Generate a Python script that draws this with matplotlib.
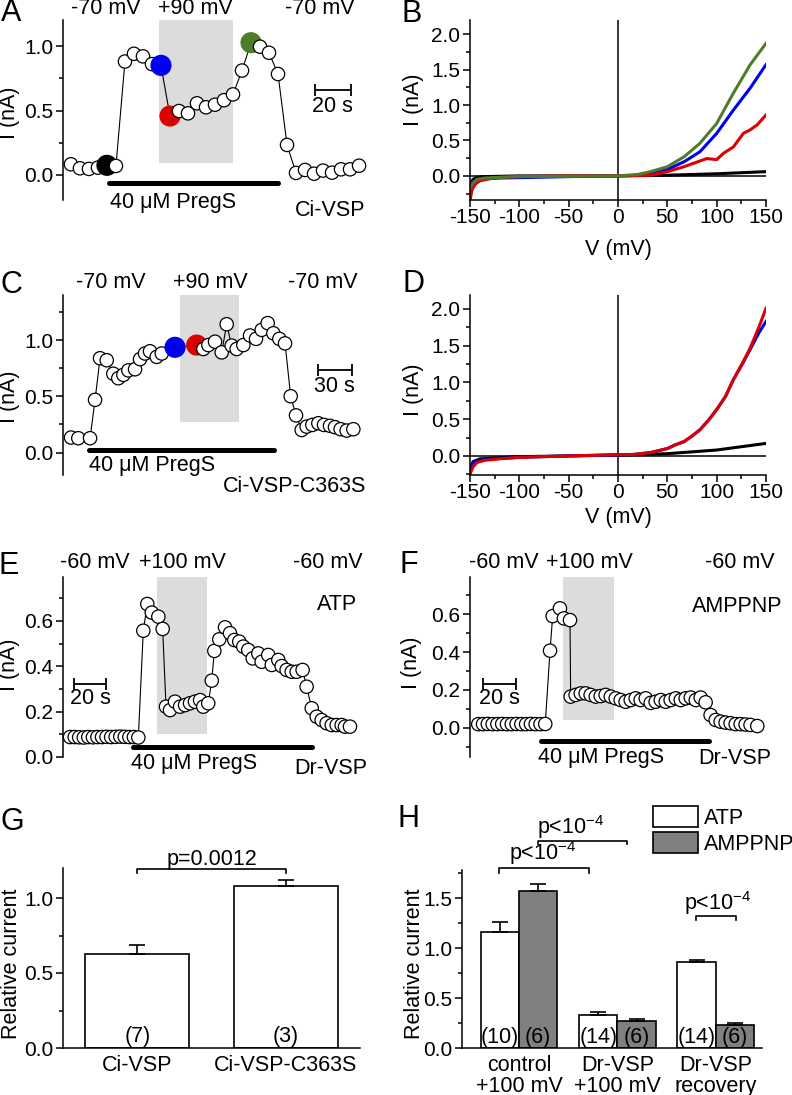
import matplotlib
matplotlib.use('Agg')
import matplotlib.pyplot as plt
from matplotlib.ticker import MultipleLocator, FormatStrFormatter
from matplotlib.patches import Rectangle, Patch

plt.rcParams['font.family'] = 'Liberation Sans'
plt.rcParams['axes.unicode_minus'] = False
plt.rcParams['mathtext.fontset'] = 'custom'
plt.rcParams['mathtext.rm'] = 'Liberation Sans'
plt.rcParams['mathtext.default'] = 'regular'

BLUE = '#0000ee'
RED = '#dd0000'
GREEN = '#4d7d29'
SHADE = '#dcdcdc'
GRAY = '#808080'

# ---- A: Ci-VSP time course (s, nA)
a_time = [0, 5, 10, 15, 20, 25, 30, 35, 40, 45, 50, 55, 60, 65, 70, 75, 80,
          85, 90, 95, 100, 105, 110, 115, 120, 125, 130, 135, 140, 145, 150, 155, 160]
a_current = [0.083, 0.052, 0.047, 0.057, 0.075, 0.07, 0.88, 0.94, 0.92, 0.86, 0.85,
             0.457, 0.496, 0.478, 0.556, 0.525, 0.545, 0.58, 0.625, 0.81, 1.026,
             0.995, 0.948, 0.783, 0.233, 0.016, 0.039, 0.010, 0.034, 0.018, 0.044,
             0.044, 0.072]
a_special = {4: 'k', 10: BLUE, 11: RED, 20: GREEN}

# ---- C: Ci-VSP-C363S time course
c_time = [0, 6.4, 16.8, 21.2, 25.6, 31.5, 37.3, 41.7, 46.2, 50.6, 56.5, 60.9, 65.3,
          69.7, 75.6, 80.1, 91.8, 110.9, 116.8, 121.2, 127.1, 133.0, 137.4, 141.8,
          146.2, 152.1, 158.0, 163.3, 168.3, 173.6, 178.6, 183.9, 188.9, 193.9,
          198.6, 203.6, 208.0, 213.0, 218.3, 223.3, 228.6, 233.0, 238.0, 243.3, 249.2]
c_current = [0.133, 0.127, 0.127, 0.468, 0.838, 0.82, 0.70, 0.66, 0.69, 0.73, 0.74,
             0.83, 0.88, 0.90, 0.85, 0.88, 0.935, 0.955, 0.92, 0.955, 0.985, 0.89,
             1.14, 0.95, 0.92, 0.955, 1.04, 1.01, 1.09, 1.15, 1.06, 1.01, 0.97, 0.50,
             0.33, 0.20, 0.23, 0.245, 0.26, 0.245, 0.237, 0.225, 0.207, 0.195, 0.207]
c_special = {16: BLUE, 17: RED}

# ---- E: Dr-VSP, ATP
e_time = [0, 2.9, 5.7, 8.6, 11.4, 14.3, 17.1, 20.0, 22.8, 25.7, 28.5, 31.4, 34.2,
          37.1, 39.9, 42.7, 45.8, 48.3, 51.1, 55.2, 57.9, 60.0, 62.5, 65.6, 68.8,
          71.9, 75.0, 78.1, 81.3, 83.3, 86.4, 88.6, 90.2, 93.3, 96.9, 100.0, 102.7,
          105.8, 108.3, 111.4, 114.2, 117.7, 119.8, 123.9, 126.1, 130.2, 132.3,
          135.4, 138.6, 141.7, 145.4, 147.9, 151.1, 154.2, 157.3, 160.4, 163.6,
          166.7, 169.8, 171.9, 175.0]
e_current = [0.088, 0.088, 0.087, 0.086, 0.088, 0.087, 0.088, 0.088, 0.089, 0.088,
             0.089, 0.090, 0.089, 0.088, 0.088, 0.086, 0.557, 0.675, 0.637, 0.619,
             0.565, 0.222, 0.207, 0.244, 0.222, 0.229, 0.237, 0.244, 0.251, 0.222,
             0.237, 0.337, 0.468, 0.519, 0.572, 0.546, 0.516, 0.509, 0.487, 0.472,
             0.435, 0.457, 0.420, 0.450, 0.406, 0.428, 0.401, 0.384, 0.376, 0.376,
             0.384, 0.310, 0.215, 0.178, 0.163, 0.149, 0.141, 0.141, 0.141, 0.134,
             0.134]

# ---- F: Dr-VSP, AMPPNP
f_time = [0, 2.9, 5.8, 8.7, 11.6, 14.5, 17.4, 20.3, 23.2, 26.1, 29.0, 31.9, 34.8,
          37.7, 40.6, 43.5, 45.1, 49.5, 51.9, 55.6, 56.0, 59.0, 62.1, 65.1, 68.1,
          71.2, 74.2, 77.2, 80.3, 83.3, 86.3, 89.3, 92.4, 95.4, 98.4, 101.5, 104.5,
          107.5, 110.6, 113.6, 116.6, 119.7, 122.7, 125.7, 128.8, 131.8, 134.8,
          137.8, 140.8, 143.9, 146.9, 149.9, 152.9, 156.0, 159.0, 162.0, 165.0, 169.1]
f_current = [0.02, 0.02, 0.021, 0.02, 0.02, 0.021, 0.02, 0.02, 0.021, 0.02, 0.02,
             0.021, 0.02, 0.02, 0.021, 0.407, 0.589, 0.630, 0.577, 0.568, 0.165,
             0.174, 0.182, 0.182, 0.174, 0.165, 0.168, 0.174, 0.165, 0.156, 0.147,
             0.138, 0.147, 0.156, 0.147, 0.156, 0.132, 0.138, 0.147, 0.138, 0.147,
             0.156, 0.147, 0.156, 0.160, 0.147, 0.160, 0.135, 0.068, 0.042, 0.033,
             0.028, 0.025, 0.020, 0.020, 0.018, 0.016, 0.010]

# ---- B: I-V curves (mV, nA)
b_black_v = [-150, -147, -143, -135, -100, -50, 0, 50, 100, 150]
b_black_i = [-0.12, -0.05, -0.02, -0.01, 0.0, 0.0, 0.0, 0.01, 0.03, 0.06]
b_blue_v = [-150, -147, -143, -135, -120, -100, -50, 0, 20, 33, 50, 67, 83, 100, 117, 134, 150]
b_blue_i = [-0.15, -0.08, -0.05, -0.04, -0.03, -0.025, -0.01, 0.0, 0.01, 0.03, 0.09,
            0.20, 0.34, 0.60, 0.93, 1.24, 1.57]
b_red_v = [-150, -148, -145, -140, -130, -120, -100, -50, 0, 33, 50, 67, 83, 90, 100,
           107, 117, 127, 134, 141, 150]
b_red_i = [-0.35, -0.2, -0.12, -0.07, -0.04, -0.02, -0.01, 0.0, 0.0, 0.01, 0.06, 0.13,
           0.21, 0.245, 0.23, 0.32, 0.41, 0.60, 0.65, 0.72, 0.86]
b_green_v = [-150, -147, -143, -135, -120, -100, -50, 0, 20, 33, 50, 67, 83, 100, 117, 134, 150]
b_green_i = [-0.17, -0.1, -0.05, -0.03, -0.02, -0.01, -0.005, 0.0, 0.02, 0.06, 0.13,
             0.27, 0.46, 0.74, 1.17, 1.57, 1.87]

# ---- D: I-V curves
d_black_v = [-150, -147, -140, -100, 0, 50, 100, 150]
d_black_i = [-0.2, -0.08, -0.04, -0.01, 0.01, 0.03, 0.08, 0.17]
d_v = [-150, -147, -143, -135, -120, -100, -50, 0, 16, 33, 50, 58, 67, 75, 83, 92,
       100, 109, 117, 126, 134, 143, 150]
d_blue_i = [-0.22, -0.1, -0.07, -0.05, -0.035, -0.02, 0.0, 0.015, 0.02, 0.045, 0.10,
            0.15, 0.195, 0.27, 0.355, 0.49, 0.63, 0.81, 1.04, 1.25, 1.45, 1.68, 1.83]
d_red_i = [-0.25, -0.15, -0.09, -0.06, -0.04, -0.02, 0.0, 0.015, 0.02, 0.045, 0.10,
           0.15, 0.195, 0.27, 0.355, 0.49, 0.63, 0.81, 1.04, 1.26, 1.47, 1.76, 2.01]

# ---- G: bar summary
g_groups = ['Ci-VSP', 'Ci-VSP-C363S']
g_mean = [0.63, 1.078]
g_sem = [0.054, 0.044]
g_n = ['(7)', '(3)']

# ---- H: bar summary
h_groups = ['control\n+100 mV', 'Dr-VSP\n+100 mV', 'Dr-VSP\nrecovery']
h_atp = [1.16, 0.327, 0.857]
h_atp_sem = [0.10, 0.033, 0.02]
h_amppnp = [1.573, 0.267, 0.227]
h_amppnp_sem = [0.07, 0.023, 0.023]
h_atp_n = ['(10)', '(14)', '(14)']
h_amppnp_n = ['(6)', '(6)', '(6)']

W, H = 792, 1095
fig = plt.figure(figsize=(W / 100, H / 100), dpi=100)
FS = 15.5
TS = 15


def add_ax(x0, y0, x1, y1):
    return fig.add_axes([x0 / W, 1 - y1 / H, (x1 - x0) / W, (y1 - y0) / H])


def label(x, y, s, size=FS, **kw):
    fig.text(x / W, 1 - y / H, s, ha='center', va='center', fontsize=size, **kw)


def style_left(ax, major, minor):
    for s in ('top', 'right', 'bottom'):
        ax.spines[s].set_visible(False)
    ax.spines['left'].set_linewidth(1.1)
    ax.set_xticks([])
    ax.yaxis.set_major_locator(MultipleLocator(major))
    ax.yaxis.set_minor_locator(MultipleLocator(minor))
    ax.yaxis.set_major_formatter(FormatStrFormatter('%.1f'))
    ax.tick_params(axis='y', which='major', direction='out', length=5, width=1.1,
                   labelsize=TS, pad=2)
    ax.tick_params(axis='y', which='minor', direction='out', length=3, width=1.1)
    ax.patch.set_visible(False)


def draw_trace(ax, t, cur, special):
    ax.plot(t, cur, color='k', lw=0.8, zorder=2, clip_on=False)
    fc = ['white'] * len(t)
    ec = ['k'] * len(t)
    s = [92] * len(t)
    for idx, col in special.items():
        fc[idx] = col
        ec[idx] = col
        s[idx] = 205
    ax.scatter(t, cur, s=s, c=fc, edgecolors=ec, linewidths=0.9, zorder=3, clip_on=False)


def scale_bar(ax, t0, t1, y):
    ax.plot([t0, t1], [y, y], color='k', lw=1.3, marker='|', ms=8, mew=1.3,
            solid_capstyle='butt')


def drug_bar(ax, t0, t1, y):
    ax.plot([t0, t1], [y, y], color='k', lw=3.6, solid_capstyle='round', clip_on=False)


def shade(ax, t0, t1, y0, y1):
    ax.add_patch(Rectangle((t0, y0), t1 - t0, y1 - y0, color=SHADE, lw=0, zorder=0))


def style_iv(ax, ylim):
    ax.set_xlim(-150, 150)
    ax.set_ylim(ylim)
    for s in ('top', 'right'):
        ax.spines[s].set_visible(False)
    for s in ('left', 'bottom'):
        ax.spines[s].set_linewidth(1.1)
    ax.xaxis.set_major_locator(MultipleLocator(50))
    ax.xaxis.set_minor_locator(MultipleLocator(25))
    ax.yaxis.set_major_locator(MultipleLocator(0.5))
    ax.yaxis.set_minor_locator(MultipleLocator(0.25))
    ax.yaxis.set_major_formatter(FormatStrFormatter('%.1f'))
    ax.tick_params(which='major', direction='out', length=5, width=1.1, labelsize=TS, pad=2)
    ax.tick_params(axis='x', which='major', pad=1)
    ax.tick_params(which='minor', direction='out', length=3, width=1.1)
    ax.axhline(0, color='k', lw=1.1, zorder=1)
    ax.axvline(0, color='k', lw=1.1, zorder=1)


# ---------------- A
ax = add_ax(63, 20, 365, 200)
ax.set_xlim(-4.4, 163.3)
ax.set_ylim(-0.194, 1.202)
style_left(ax, 0.5, 0.25)
shade(ax, 48.9, 90, 0.09, 1.202)
draw_trace(ax, a_time, a_current, a_special)
scale_bar(ax, 135.6, 155.6, 0.66)
drug_bar(ax, 21, 115, -0.065)
label(11, 13, 'A', size=22)
label(106, 9, '-70 mV')
label(195, 9, '+90 mV')
label(320, 9, '-70 mV')
label(332, 107, '20 s')
label(173, 202, '40 μM PregS')
label(330, 211, 'Ci-VSP')
label(9, 113, 'I (nA)', rotation=90)

# ---------------- B
ax = add_ax(470, 20, 766, 200)
style_iv(ax, (-0.34, 2.2))
ax.plot(b_black_v, b_black_i, color='k', lw=2.2)
ax.plot(b_blue_v, b_blue_i, color=BLUE, lw=2.2)
ax.plot(b_red_v, b_red_i, color=RED, lw=2.2)
ax.plot(b_green_v, b_green_i, color=GREEN, lw=2.2)
label(412, 14, 'B', size=22)
label(414, 100, 'I (nA)', rotation=90)
label(618, 249, 'V (mV)')

# ---------------- C
ax = add_ax(63, 295, 365, 475)
ax.set_xlim(-7.1, 259.5)
ax.set_ylim(-0.2, 1.4)
style_left(ax, 0.5, 0.25)
shade(ax, 96.2, 148.3, 0.27, 1.4)
draw_trace(ax, c_time, c_current, c_special)
scale_bar(ax, 218, 248, 0.73)
drug_bar(ax, 15.9, 179.2, 0.02)
label(11, 285, 'C', size=22)
label(111, 283, '-70 mV')
label(210, 283, '+90 mV')
label(323, 283, '-70 mV')
label(334, 387, '30 s')
label(152, 466, '40 μM PregS')
label(295, 487, 'Ci-VSP-C363S')
label(9, 397, 'I (nA)', rotation=90)

# ---------------- D
ax = add_ax(470, 295, 766, 475)
style_iv(ax, (-0.26, 2.19))
ax.plot(d_black_v, d_black_i, color='k', lw=2.2)
ax.plot(d_v, d_blue_i, color=BLUE, lw=2.2)
ax.plot(d_v, d_red_i, color=RED, lw=2.2)
label(413, 284, 'D', size=22)
label(414, 390, 'I (nA)', rotation=90)
label(618, 517, 'V (mV)')

# ---------------- E
ax = add_ax(63, 577, 365, 757)
ax.set_xlim(-4.4, 184.4)
ax.set_ylim(0, 0.794)
style_left(ax, 0.2, 0.1)
shade(ax, 54.4, 85.6, 0.10, 0.794)
draw_trace(ax, e_time, e_current, {})
scale_bar(ax, 2.5, 22.5, 0.32)
drug_bar(ax, 39.4, 151.3, 0.044)
label(9, 566, 'E', size=22)
label(95, 563, '-60 mV')
label(182, 563, '+100 mV')
label(328, 563, '-60 mV')
label(337, 605, 'ATP')
label(90, 698, '20 s')
label(194, 764, '40 μM PregS')
label(331, 769, 'Dr-VSP')
label(10, 665, 'I (nA)', rotation=90)

# ---------------- F
ax = add_ax(470, 577, 770, 757)
ax.set_xlim(-5.0, 176.8)
ax.set_ylim(-0.153, 0.795)
style_left(ax, 0.2, 0.1)
shade(ax, 51.3, 82.2, 0.04, 0.795)
draw_trace(ax, f_time, f_current, {})
scale_bar(ax, 2.8, 22.8, 0.23)
drug_bar(ax, 38, 139.8, -0.07)
label(409, 565, 'F', size=22)
label(504, 562, '-60 mV')
label(589, 562, '+100 mV')
label(740, 562, '-60 mV')
label(737, 606, 'AMPPNP')
label(499, 698, '20 s')
label(601, 758, '40 μM PregS')
label(735, 759, 'Dr-VSP')
label(411, 663, 'I (nA)', rotation=90)


def style_bar(ax):
    for s in ('top', 'right'):
        ax.spines[s].set_visible(False)
    for s in ('left', 'bottom'):
        ax.spines[s].set_linewidth(1.1)
    ax.yaxis.set_major_locator(MultipleLocator(0.5))
    ax.yaxis.set_minor_locator(MultipleLocator(0.25))
    ax.yaxis.set_major_formatter(FormatStrFormatter('%.1f'))
    ax.tick_params(axis='y', which='major', direction='out', length=5, width=1.1,
                   labelsize=TS, pad=2)
    ax.tick_params(axis='y', which='minor', direction='out', length=3, width=1.1)
    ax.tick_params(axis='x', length=0, labelsize=FS, pad=5)


def bracket(ax, x0, x1, y, drop):
    ax.plot([x0, x0, x1, x1], [y - drop, y, y, y - drop], color='k', lw=1.2, clip_on=False)


ekw = dict(capsize=6, elinewidth=1.2, capthick=1.2, ecolor='k')

# ---------------- G
ax = add_ax(63, 868, 360, 1048)
ax.set_xlim(-0.5, 1.5)
ax.set_ylim(0, 1.2)
style_bar(ax)
gx = [0, 1]
ax.bar(gx, g_mean, width=0.7, color='white', edgecolor='k', lw=1.2,
       yerr=[[0, 0], g_sem], error_kw=ekw)
ax.set_xticks(gx)
ax.set_xticklabels(g_groups)
for x, n in zip(gx, g_n):
    ax.text(x, 0.075, n, ha='center', va='center', fontsize=FS)
bracket(ax, 0, 1, 1.193, 0.027)
ax.text(0.5, 1.26, 'p=0.0012', ha='center', va='center', fontsize=FS)
label(12, 822, 'G', size=22)
label(12, 964, 'Relative current', rotation=90)

# ---------------- H
ax = add_ax(462, 870, 762, 1048)
ax.set_xlim(-0.58, 2.47)
ax.set_ylim(0, 1.78)
style_bar(ax)
hx = [0, 1, 2]
hw = 0.39
ax.bar([x - hw / 2 for x in hx], h_atp, width=hw, color='white', edgecolor='k', lw=1.2,
       yerr=[[0, 0, 0], h_atp_sem], error_kw=ekw)
ax.bar([x + hw / 2 for x in hx], h_amppnp, width=hw, color=GRAY, edgecolor='k', lw=1.2,
       yerr=[[0, 0, 0], h_amppnp_sem], error_kw=ekw)
ax.set_xticks(hx)
ax.set_xticklabels(h_groups, linespacing=1.0)
for x, n1, n2 in zip(hx, h_atp_n, h_amppnp_n):
    ax.text(x - hw / 2, 0.1, n1, ha='center', va='center', fontsize=FS)
    ax.text(x + hw / 2, 0.1, n2, ha='center', va='center', fontsize=FS)
bracket(ax, -0.2, 0.71, 1.797, 0.044)
ax.text(0.244, 1.947, r'p<10$^{-4}$', ha='center', va='center', fontsize=FS)
bracket(ax, 0.19, 1.10, 2.073, 0.036)
ax.text(0.52, 2.213, r'p<10$^{-4}$', ha='center', va='center', fontsize=FS)
bracket(ax, 1.80, 2.21, 1.32, 0.04)
ax.text(2.02, 1.447, r'p<10$^{-4}$', ha='center', va='center', fontsize=FS)
handles = [Patch(facecolor='white', edgecolor='k', lw=1.2),
           Patch(facecolor=GRAY, edgecolor='k', lw=1.2)]
fig.legend(handles, ['ATP', 'AMPPNP'], loc='upper left',
           bbox_to_anchor=(653 / W, 1 - 806 / H), bbox_transform=fig.transFigure,
           frameon=False, fontsize=FS, handlelength=2.1, handleheight=1.1,
           labelspacing=0.15, handletextpad=0.25, borderpad=0, borderaxespad=0)
label(408, 819, 'H', size=22)
label(414, 964, 'Relative current', rotation=90)

fig.savefig('out.png', dpi=100)
